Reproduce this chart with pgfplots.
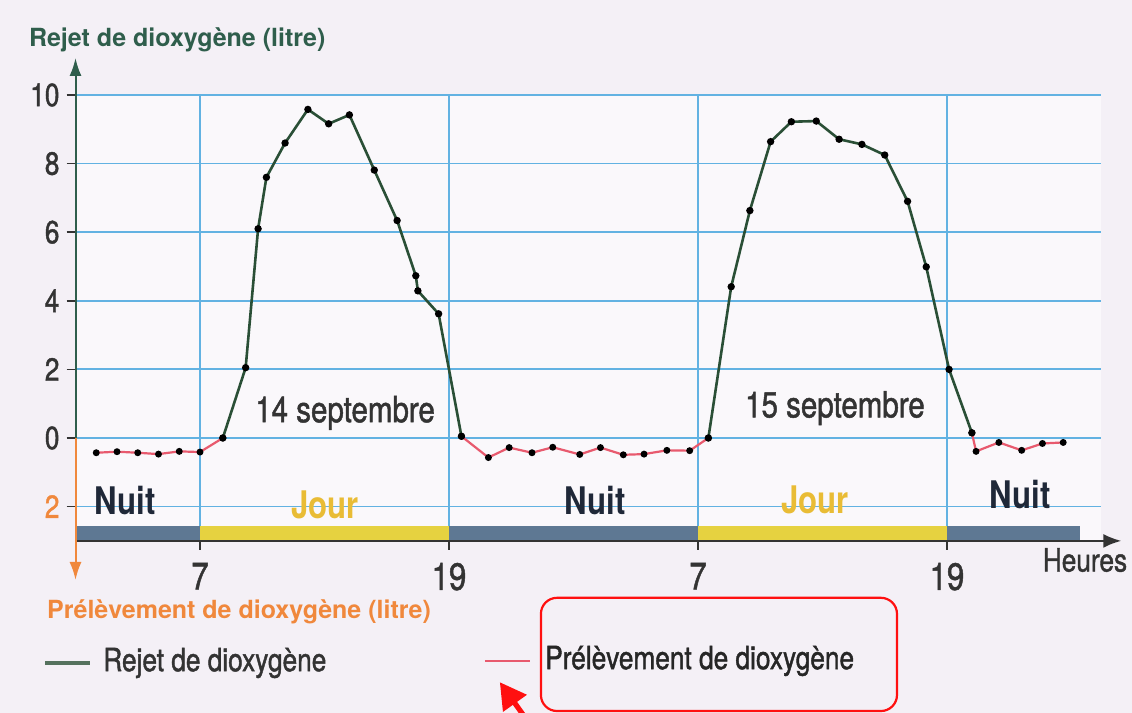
\documentclass[border=0pt]{standalone}
\usepackage{fontspec}
\setmainfont{TeX Gyre Heros}
\newfontfamily\cond{TeX Gyre Heros}[FakeStretch=0.82, FakeBold=1.3]
\newfontfamily\condb{TeX Gyre Heros}[FakeStretch=0.82]
\usepackage{pgfplots}
\pgfplotsset{compat=1.18}
\usetikzlibrary{arrows.meta,backgrounds}
\definecolor{bgcol}{HTML}{F4F0F6}
\definecolor{gridblue}{HTML}{62B2E2}
\definecolor{nightbar}{HTML}{5E7893}
\definecolor{jourbar}{HTML}{E6D240}
\definecolor{nuittext}{HTML}{1F2838}
\definecolor{jourtext}{HTML}{E9BC35}
\definecolor{greenline}{HTML}{2A4F36}
\definecolor{redline}{HTML}{E85A6E}
\definecolor{titlegreen}{HTML}{2F5E4C}
\definecolor{orangeC}{HTML}{F0883C}
\definecolor{labgray}{HTML}{333333}
\definecolor{annot}{HTML}{FF1010}

\pgfplotstableread{
h v
2 -0.43
3 -0.40
4 -0.43
5 -0.47
6 -0.39
7 -0.41
8.1 0.0
}\nightA
\pgfplotstableread{
h v
8.1 0.0
9.2 2.05
9.8 6.1
10.2 7.6
11.1 8.6
12.2 9.58
13.2 9.16
14.2 9.42
15.4 7.81
16.5 6.34
17.4 4.73
17.5 4.29
18.5 3.62
19.6 0.05
}\dayA
\pgfplotstableread{
h v
19.6 0.05
20.9 -0.57
21.9 -0.28
23.0 -0.43
24.0 -0.27
25.3 -0.48
26.3 -0.28
27.4 -0.49
28.4 -0.47
29.5 -0.36
30.6 -0.37
31.5 0.0
}\nightB
\pgfplotstableread{
h v
31.5 0.0
32.6 4.41
33.5 6.63
34.5 8.64
35.5 9.22
36.7 9.24
37.8 8.71
38.9 8.56
40.0 8.25
41.1 6.9
42.0 4.99
43.1 2.0
44.2 0.15
}\dayB
\pgfplotstableread{
h v
44.2 0.15
44.4 -0.39
45.5 -0.13
46.6 -0.36
47.6 -0.16
48.6 -0.13
}\nightC

\begin{document}
\begin{tikzpicture}[show background rectangle,
  background rectangle/.style={fill=bgcol,draw=none}, inner frame sep=0pt]
\begin{axis}[
  x=10.375pt, y=17.15pt,
  xmin=1, xmax=50.4, ymin=-3, ymax=10,
  axis line style={draw=none},
  axis background/.style={fill=white!55!bgcol},
  clip=false,
  tick pos=left, tick align=outside,
  major tick length=4.5pt,
  tick style={draw=labgray, line width=0.8pt},
  xtick={7,19,31,43}, xticklabels={7,19,7,19},
  ytick={-2,0,2,4,6,8,10},
  yticklabels={\textcolor{orangeC}{2},0,2,4,6,8,10},
  xticklabel style={font=\cond\fontsize{19}{19}\selectfont, text=labgray, yshift=-3pt},
  yticklabel style={font=\cond\fontsize{16}{16}\selectfont, text=labgray},
  xmajorgrids, ymajorgrids,
  major grid style={draw=gridblue, line width=0.9pt},
]
% day/night bars
\fill[nightbar] (axis cs:1,-3) rectangle (axis cs:7,-2.56);
\fill[jourbar] (axis cs:7,-3) rectangle (axis cs:19,-2.56);
\fill[nightbar] (axis cs:19,-3) rectangle (axis cs:31,-2.56);
\fill[jourbar] (axis cs:31,-3) rectangle (axis cs:43,-2.56);
\fill[nightbar] (axis cs:43,-3) rectangle (axis cs:49.4,-2.56);

% axes
\draw[-{Latex[length=9pt,width=7pt]}, labgray, line width=1pt] (axis cs:1,-3) -- (axis cs:51.4,-3);
\draw[-{Latex[length=9pt,width=6pt]}, titlegreen, line width=1pt] (axis cs:1,0) -- (axis cs:1,11.08);
\draw[-{Latex[length=9pt,width=6pt]}, orangeC, line width=1pt] (axis cs:1,0) -- (axis cs:1,-4.14);

% data
\addplot[redline, line width=1.1pt, mark=*, mark size=1.15pt, mark options={fill=black,draw=black}] table[x=h,y=v] {\nightA};
\addplot[greenline, line width=1.3pt, mark=*, mark size=1.15pt, mark options={fill=black,draw=black}] table[x=h,y=v] {\dayA};
\addplot[redline, line width=1.1pt, mark=*, mark size=1.15pt, mark options={fill=black,draw=black}] table[x=h,y=v] {\nightB};
\addplot[greenline, line width=1.3pt, mark=*, mark size=1.15pt, mark options={fill=black,draw=black}] table[x=h,y=v] {\dayB};
\addplot[redline, line width=1.1pt, mark=*, mark size=1.15pt, mark options={fill=black,draw=black}] table[x=h,y=v] {\nightC};

% texts
\node[anchor=west, text=titlegreen, font=\bfseries\fontsize{12.5}{12.5}\selectfont] at (axis cs:-1.58,11.6) {Rejet de dioxygène (litre)};
\node[anchor=west, text=orangeC, font=\bfseries\fontsize{12.5}{12.5}\selectfont] at (axis cs:-0.71,-5.07) {Prélèvement de dioxygène (litre)};
\node[text=labgray, font=\cond\fontsize{16}{16}\selectfont] at (axis cs:49.65,-3.56) {Heures};
\node[text=nuittext, font=\bfseries\condb\fontsize{19}{19}\selectfont] at (axis cs:3.39,-1.81) {Nuit};
\node[text=nuittext, font=\bfseries\condb\fontsize{19}{19}\selectfont] at (axis cs:26.04,-1.81) {Nuit};
\node[text=nuittext, font=\bfseries\condb\fontsize{19}{19}\selectfont] at (axis cs:46.52,-1.66) {Nuit};
\node[text=jourtext, font=\bfseries\condb\fontsize{19}{19}\selectfont] at (axis cs:13.02,-1.95) {Jour};
\node[text=jourtext, font=\bfseries\condb\fontsize{19}{19}\selectfont] at (axis cs:36.64,-1.81) {Jour};
\node[text=labgray, font=\cond\fontsize{18}{18}\selectfont] at (axis cs:13.99,0.73) {14 septembre};
\node[text=labgray, font=\cond\fontsize{18}{18}\selectfont] at (axis cs:37.6,0.87) {15 septembre};

% legend
\draw[greenline!80!white, line width=1.6pt] (axis cs:-0.47,-6.56) -- (axis cs:1.70,-6.56);
\node[anchor=west, text=labgray, font=\cond\fontsize{16}{16}\selectfont] at (axis cs:2.0,-6.56) {Rejet de dioxygène};
\draw[redline, line width=1.4pt] (axis cs:20.73,-6.5) -- (axis cs:22.9,-6.5);
\node[anchor=west, text=black!85, font=\cond\fontsize{16}{16}\selectfont] at (axis cs:23.3,-6.5) {Prélèvement de dioxygène};

% annotation
\draw[annot, line width=1.1pt, rounded corners=8pt] (axis cs:23.43,-4.66) rectangle (axis cs:40.59,-7.96);
\draw[annot, line width=2.6pt, -{Triangle[length=13pt,width=14pt]}] (axis cs:23.2,-8.6) -- (axis cs:21.45,-7.12);

\coordinate (bbA) at (axis cs:-2.639,-8.017);
\coordinate (bbB) at (axis cs:51.916,12.770);
\end{axis}
\pgfresetboundingbox
\useasboundingbox (bbA) rectangle (bbB);
\end{tikzpicture}
\end{document}
